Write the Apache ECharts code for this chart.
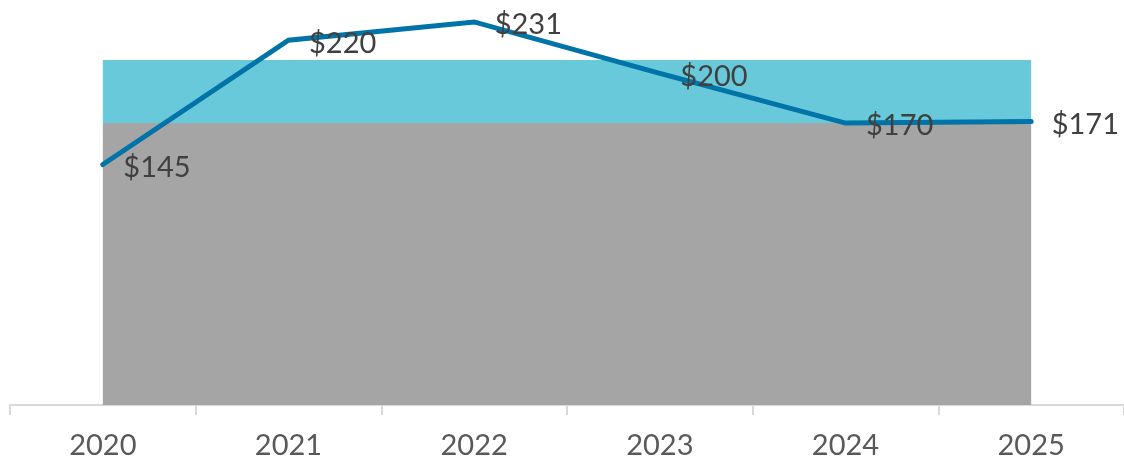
<!DOCTYPE html>
<html>
<head>
<meta charset="utf-8">
<title>Price trend</title>
<script src="https://cdn.jsdelivr.net/npm/echarts@6/dist/echarts.min.js"></script>
<style>
    html, body { margin: 0; padding: 0; background: #fff; }
    #chart { width: 1124px; height: 460px; }
</style>
</head>
<body>
<div id="chart"></div>
<script>
'use strict';

// 年份
const years = ['2020', '2021', '2022', '2023', '2024', '2025'];
// 价格折线
const priceValues = [145, 220, 231, 200, 170, 171];
// 灰色底部区域
const baseValues = [170, 170, 170, 170, 170, 170];
// 青色区间（叠加在灰色上）
const rangeValues = [38, 38, 38, 38, 38, 38];

const labelFont = 'Lato, "Noto Sans", sans-serif';

let myChart = echarts.init(document.getElementById('chart'));

let option = {
    animation: false,
    grid: {left: 10, top: 7, width: 1121, height: 400},
    xAxis: {
        type: 'category',
        data: years,
        boundaryGap: true,
        axisLine: {lineStyle: {color: '#d9d9d9', width: 2}},
        axisTick: {show: true, length: 10, lineStyle: {color: '#d9d9d9', width: 2}},
        axisLabel: {
            color: '#595959',
            fontFamily: labelFont,
            fontSize: 29,
            margin: 26
        }
    },
    yAxis: {
        type: 'value',
        min: 0,
        max: 240,
        show: false,
        splitLine: {show: false}
    },
    series: [
        {
            name: 'base',
            type: 'line',
            stack: 'band',
            data: baseValues,
            symbol: 'none',
            lineStyle: {width: 0},
            areaStyle: {color: '#a5a5a5', opacity: 1},
            z: 1
        },
        {
            name: 'range',
            type: 'line',
            stack: 'band',
            data: rangeValues,
            symbol: 'none',
            lineStyle: {width: 0},
            areaStyle: {color: '#67c9d9', opacity: 1},
            z: 1
        },
        {
            name: 'price',
            type: 'line',
            data: priceValues,
            symbol: 'circle',
            symbolSize: 1,
            itemStyle: {color: '#0073a8'},
            lineStyle: {color: '#0073a8', width: 5, cap: 'round', join: 'miter'},
            label: {
                show: true,
                position: 'right',
                distance: 20,
                offset: [0, 3],
                color: '#404040',
                fontFamily: labelFont,
                fontSize: 29,
                formatter: function (p) {
                    return '$' + p.value;
                }
            },
            z: 3
        }
    ]
};

myChart.setOption(option);
</script>
</body>
</html>
